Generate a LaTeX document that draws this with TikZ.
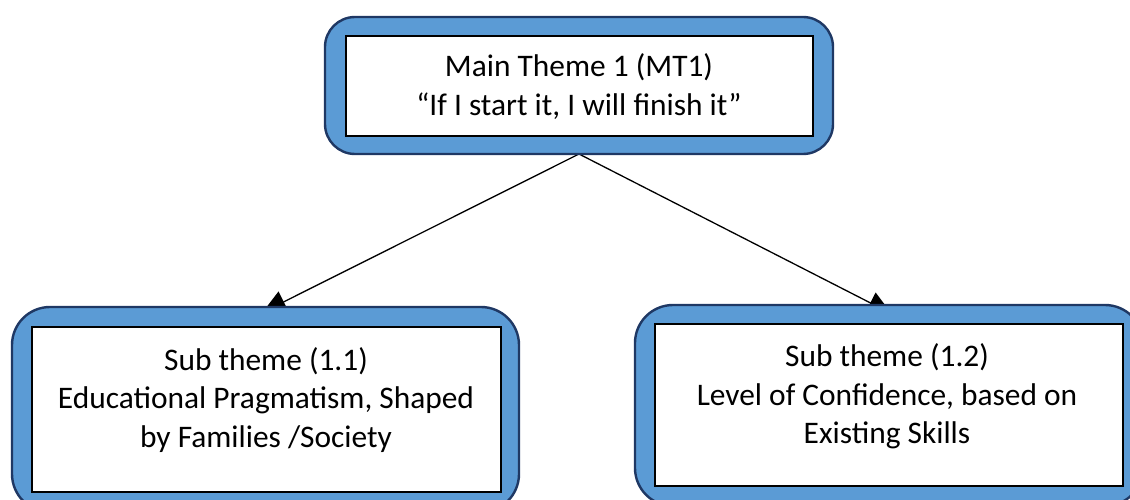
\documentclass[tikz,border=0pt]{standalone}
\usepackage{fontspec}
\setmainfont{Carlito}
\usetikzlibrary{arrows.meta}
\definecolor{boxfill}{HTML}{5B9BD5}
\definecolor{boxedge}{HTML}{1F3864}
\begin{document}
\begin{tikzpicture}[x=1pt,y=-1pt,
  frame/.style={draw=boxedge,fill=boxfill,line width=2.4pt,inner sep=0pt},
  panel/.style={draw=black,fill=white,line width=1.4pt,inner sep=0pt},
  caption/.style={align=center,inner sep=0pt,text=black,
    font=\fontsize{31.4pt}{38.5pt}\selectfont},
  link/.style={draw=black,line width=1.3pt,-{Triangle[width=23pt,length=24pt]}}]
\useasboundingbox (0,0) rectangle (1130,500);
\clip (0,0) rectangle (1130,500);

% arrow end points (the tips sit behind the lower frames)
\coordinate (tipL) at (262.3,312.6);
\coordinate (tipR) at (891.7,313.8);
\coordinate (root) at (579,154);

% connectors first, so that the frames cover the tips
\draw[link] (root) -- (tipL);
\draw[link] (root) -- (tipR);

% main theme
\node[frame,rounded corners=30pt,minimum width=508pt,minimum height=137pt] (mt) at (579,85.5) {};
\node[panel,minimum width=467pt,minimum height=100pt] (mtin) at (579.5,86) {};
\node[caption] (mttext) at (579,86.7) {Main Theme 1 (MT1)\\``If I start it, I will finish it''};

% sub theme 1.1
\node[frame,rounded corners=38pt,minimum width=507pt,minimum height=205pt] (sa) at (265.5,409.5) {};
\node[panel,minimum width=469pt,minimum height=165pt] (sain) at (266.5,409.5) {};
\node[caption] (satext) at (266,400) {Sub theme (1.1)\\Educational Pragmatism, Shaped\\by Families /Society};

% sub theme 1.2
\node[frame,rounded corners=38pt,minimum width=508pt,minimum height=201pt] (sb) at (889,405.5) {};
\node[panel,minimum width=468pt,minimum height=162pt] (sbin) at (889,405) {};
\node[caption] (sbtext) at (887,396.4) {Sub theme (1.2)\\Level of Confidence, based on\\Existing Skills};
\end{tikzpicture}
\end{document}
